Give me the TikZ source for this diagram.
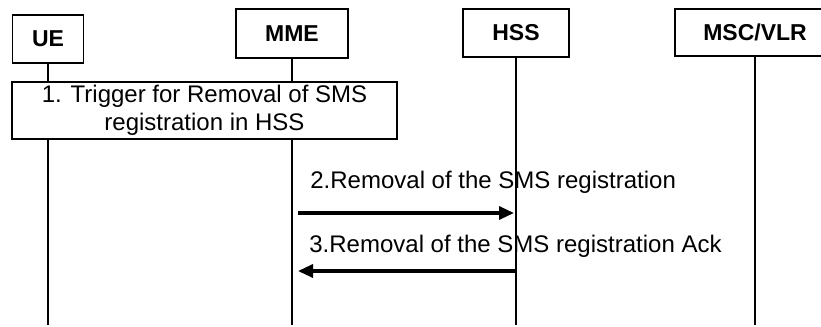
\documentclass[tikz,border=0pt]{standalone}
\usepackage{fontspec}
\setmainfont{Liberation Sans}
\usepackage{tikz}
\usetikzlibrary{arrows.meta, positioning, calc}
\tikzset{
  entity/.style={draw=black, line width=0.65pt, fill=white, align=center,
                 font=\fontsize{11.5}{13}\selectfont\bfseries, inner sep=0pt},
  actionbox/.style={draw=black, line width=0.65pt, fill=white, align=center,
                 font=\fontsize{12}{14}\selectfont, inner sep=0pt,
                 minimum width=192.5pt, minimum height=28.5pt},
  lifeline/.style={line width=0.55pt},
  msg/.style={-{Triangle[length=7.5pt,width=6.5pt]}, line width=1.6pt},
  msglabel/.style={anchor=base west, font=\fontsize{12}{14}\selectfont, inner sep=0pt}
}

\begin{document}
\begin{tikzpicture}[x=0.5pt, y=-0.5pt]
        \clip (0,0) rectangle (821,327);

        \node[entity, minimum width=35.5pt, minimum height=24pt] (ue) at (48, 39) {UE};
        \node[entity, minimum width=56pt, minimum height=24.5pt] (mme) at (292, 33.5) {MME};
        \node[entity, minimum width=53pt, minimum height=24pt] (hss) at (516, 33) {HSS};
        \node[entity, minimum width=80pt, minimum height=23.5pt] (msc) at (755, 32.5) {MSC/VLR};

        \node[actionbox] (trig) at (204.5, 110.5) {1. Trigger for Removal of SMS\\registration in HSS};

        % lifelines
        \coordinate (end) at (0, 325);
        \draw[lifeline] (ue.south) -- (ue.south |- trig.north);
        \draw[lifeline] (ue.south |- trig.south) -- (ue.south |- end);
        \draw[lifeline] (mme.south) -- (mme.south |- trig.north);
        \draw[lifeline] (mme.south |- trig.south) -- (mme.south |- end);
        \draw[lifeline] (hss.south) -- (hss.south |- end);
        \draw[lifeline] (msc.south) -- (msc.south |- end);

        % messages
        \coordinate (m2) at (0, 213);
        \coordinate (m3) at (0, 271);
        \node[msglabel] (l2) at (310, 188) {2.Removal of the SMS registration};
        \node[msglabel] (l3) at (309, 252) {3.Removal of the SMS registration Ack};
        \draw[msg] ([xshift=3pt]mme.south |- m2) -- ([xshift=-1pt]hss.south |- m2);
        \draw[msg] (hss.south |- m3) -- ([xshift=3pt]mme.south |- m3);
\end{tikzpicture}
\end{document}
